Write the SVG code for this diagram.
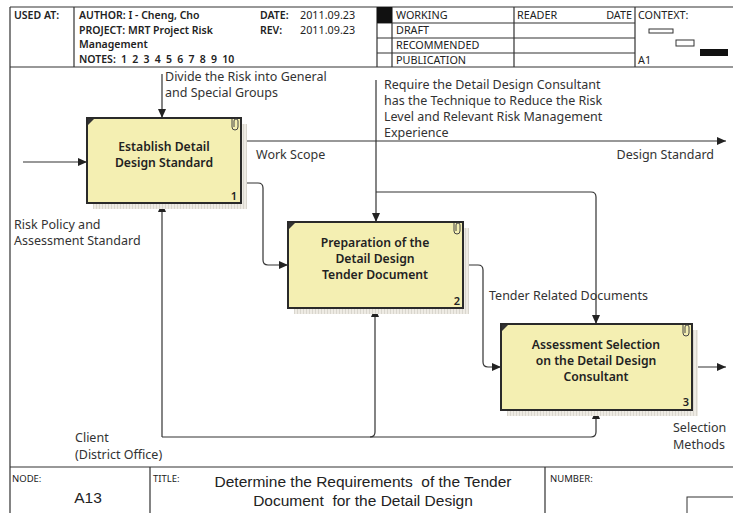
<svg xmlns="http://www.w3.org/2000/svg" width="733" height="513" viewBox="0 0 733 513">
<defs>
<style>
.frame{stroke:#333;stroke-width:1.2;fill:none}
.hd{font-family:"Noto Sans","Open Sans",sans-serif;font-size:10.8px;fill:#222}
.hb{font-weight:600;font-size:10.5px}
.dt{font-size:10.8px}
.lbl{font-family:"Noto Sans","Open Sans",sans-serif;font-size:12.5px;fill:#333}
.box{fill:#f4efb2;stroke:#2a2a2a;stroke-width:2}
.shadow{fill:url(#hatch)}
.bt{font-family:"Noto Sans","Open Sans",sans-serif;font-size:12.2px;font-weight:600;fill:#222;text-anchor:middle}
.num{font-family:"Noto Sans","Open Sans",sans-serif;font-size:11px;font-weight:600;fill:#222;text-anchor:end}
.conn{stroke:#333;stroke-width:1.2;fill:none}
.arr{marker-end:url(#ah)}
.clip{stroke:#444;stroke-width:1;fill:none}
.ft{font-family:"Liberation Sans",Arial,sans-serif;font-size:15.5px;fill:#222;white-space:pre}
.fs{font-family:"Noto Sans","Open Sans",sans-serif;font-size:9.5px;fill:#222}
</style>
<pattern id="hatch" width="3" height="3" patternUnits="userSpaceOnUse">
<rect width="3" height="3" fill="#eeebe4"/>
<rect width="1" height="3" fill="#d9d6ce"/>
</pattern>
<marker id="ah" markerWidth="9" markerHeight="8" refX="9" refY="4" orient="auto" markerUnits="userSpaceOnUse">
<path d="M0,0 L9,4 L0,8 z" fill="#222"/>
</marker>
</defs>
<rect width="733" height="513" fill="#fff"/>

<g id="header">
<path class="frame" d="M10,7 H733 M10,7 V513 M10,67 H733 M74,7 V67 M377,7 V67 M392,7 V67 M514,7 V67 M635,7 V67 M377,23 H635 M377,38 H635 M377,53 H635"/>
<rect x="377" y="7" width="15" height="16" fill="#111"/>
<text class="hd hb" x="14" y="19">USED AT:</text>
<text class="hd hb" x="79" y="19">AUTHOR: I - Cheng, Cho</text>
<text class="hd hb" x="79" y="34">PROJECT:  MRT Project Risk</text>
<text class="hd hb" x="79" y="48">Management</text>
<text class="hd hb" x="79" y="63" style="word-spacing:2.5px">NOTES: 1 2 3 4 5 6 7 8 9 10</text>
<text class="hd hb" x="260" y="19">DATE:</text>
<text class="hd hb" x="260" y="34">REV:</text>
<text class="hd dt" x="300" y="19">2011.09.23</text>
<text class="hd dt" x="300" y="34">2011.09.23</text>
<text class="hd" x="396" y="19">WORKING</text>
<text class="hd" x="396" y="34">DRAFT</text>
<text class="hd" x="396" y="49">RECOMMENDED</text>
<text class="hd" x="396" y="64">PUBLICATION</text>
<text class="hd" x="517" y="19">READER</text>
<text class="hd" x="632" y="19" text-anchor="end">DATE</text>
<text class="hd" x="638" y="19">CONTEXT:</text>
<text class="hd" x="638" y="64">A1</text>
<rect x="649" y="29" width="24" height="4" fill="none" stroke="#333" stroke-width="1"/>
<rect x="676" y="40" width="18" height="6" fill="none" stroke="#333" stroke-width="1"/>
<rect x="700" y="49" width="28" height="7" fill="#111"/>
</g>

<g id="footer">
<path class="frame" d="M10,467 H733 M150,467 V513 M545,467 V513"/>
<rect x="687" y="497" width="50" height="20" fill="none" stroke="#333" stroke-width="1"/>
<text class="fs" x="12" y="482">NODE:</text>
<text class="ft" x="88" y="503" text-anchor="middle">A13</text>
<text class="fs" x="153" y="482">TITLE:</text>
<text class="ft" x="363" y="487" text-anchor="middle">Determine the Requirements  of the Tender</text>
<text class="ft" x="363" y="506" text-anchor="middle">Document  for the Detail Design</text>
<text class="fs" x="550" y="482">NUMBER:</text>
</g>

<g id="connectors">
<path class="conn arr" d="M23,162 H87"/>
<path class="conn arr" d="M162,74 V118"/>
<path class="conn arr" d="M241,141 H726"/>
<path class="conn arr" d="M241,183 H258 Q263,183 263,188 V260 Q263,265 268,265 H288"/>
<path class="conn arr" d="M376,80 V222"/>
<path class="conn arr" d="M376,192 H591 Q596,192 596,197 V324"/>
<path class="conn arr" d="M463,265 H478 Q483,265 483,270 V362 Q483,367 488,367 H501"/>
<path class="conn arr" d="M692,367 H726"/>
<path class="conn arr" d="M162,437 V203"/>
<path class="conn arr" d="M162,437 H591 Q596,437 596,432 V410"/>
<path class="conn arr" d="M370,437 Q375,437 375,432 V308"/>
</g>

<g id="labels">
<text class="lbl" x="165" y="81">Divide the Risk into General</text>
<text class="lbl" x="165" y="97">and Special Groups</text>
<text class="lbl" x="384" y="89">Require the Detail Design Consultant</text>
<text class="lbl" x="384" y="105">has the Technique to Reduce the Risk</text>
<text class="lbl" x="384" y="121">Level and Relevant Risk Management</text>
<text class="lbl" x="384" y="137">Experience</text>
<text class="lbl" x="256" y="159">Work Scope</text>
<text class="lbl" x="714" y="159" text-anchor="end">Design Standard</text>
<text class="lbl" x="14" y="229">Risk Policy and</text>
<text class="lbl" x="14" y="245">Assessment Standard</text>
<text class="lbl" x="489" y="300">Tender Related Documents</text>
<text class="lbl" x="75" y="442">Client</text>
<text class="lbl" x="75" y="459">(District Office)</text>
<text class="lbl" x="673" y="432">Selection</text>
<text class="lbl" x="673" y="449">Methods</text>
</g>

<g id="box1">
<rect class="shadow" x="93" y="124" width="154" height="85"/>
<rect class="box" x="87" y="118" width="154" height="85"/>
<path d="M88,119 H94 L88,125 z" fill="#333"/>
<path class="clip" d="M232,119 V127 a3,3 0 0 0 6,0 V121 a2,2 0 0 0 -4,0 V127"/>
<text class="bt" x="164" y="151">Establish Detail</text>
<text class="bt" x="164" y="167">Design Standard</text>
<text class="num" x="237" y="200">1</text>
</g>

<g id="box2">
<rect class="shadow" x="294" y="228" width="175" height="86"/>
<rect class="box" x="288" y="222" width="175" height="86"/>
<path d="M289,223 H295 L289,229 z" fill="#333"/>
<path class="clip" d="M454,223 V231 a3,3 0 0 0 6,0 V225 a2,2 0 0 0 -4,0 V231"/>
<text class="bt" x="375" y="247">Preparation of the</text>
<text class="bt" x="375" y="263">Detail Design</text>
<text class="bt" x="375" y="279">Tender Document</text>
<text class="num" x="460" y="305">2</text>
</g>

<g id="box3">
<rect class="shadow" x="507" y="330" width="191" height="86"/>
<rect class="box" x="501" y="324" width="191" height="86"/>
<path d="M502,325 H508 L502,331 z" fill="#333"/>
<path class="clip" d="M683,325 V333 a3,3 0 0 0 6,0 V327 a2,2 0 0 0 -4,0 V333"/>
<text class="bt" x="596" y="349">Assessment Selection</text>
<text class="bt" x="596" y="365">on the Detail Design</text>
<text class="bt" x="596" y="381">Consultant</text>
<text class="num" x="689" y="406">3</text>
</g>
</svg>
